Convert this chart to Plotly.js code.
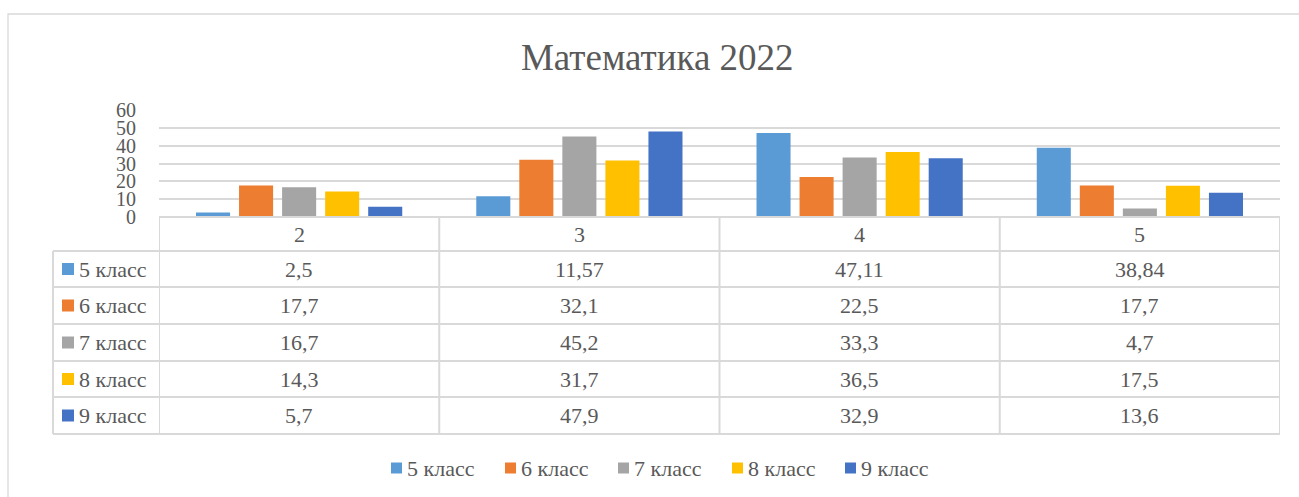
<!DOCTYPE html>
<html>
<head>
<meta charset="utf-8">
<script src="https://cdn.plot.ly/plotly-3.0.1.min.js"></script>
<style>html,body{margin:0;padding:0;background:#fff;}#chart{width:1299px;height:497px;}</style>
</head>
<body>
<div id="chart"></div>
<script>
const categories = ['2', '3', '4', '5'];
const seriesNames = ['5 класс', '6 класс', '7 класс', '8 класс', '9 класс'];
const seriesColors = ['#5B9BD5', '#ED7D31', '#A5A5A5', '#FFC000', '#4472C4'];
const class5 = [2.5, 11.57, 47.11, 38.84];
const class6 = [17.7, 32.1, 22.5, 17.7];
const class7 = [16.7, 45.2, 33.3, 4.7];
const class8 = [14.3, 31.7, 36.5, 17.5];
const class9 = [5.7, 47.9, 32.9, 13.6];
const seriesValues = [class5, class6, class7, class8, class9];
const yTicks = [0, 10, 20, 30, 40, 50, 60];
const chartTitle = 'Математика 2022';

const W = 1299, H = 497;
const FONT = 'Liberation Serif, Times New Roman, serif';
const TXT = '#595959';
const LINE = '#D9D9D9';
const px = x => x / W;
const py = y => 1 - y / H;

// layout geometry (pixels)
const plotL = 159, plotR = 1280, plotTop = 110, plotBot = 217;
const tableLeft = 53;
const rowEdges = [217, 251, 287, 324, 361, 397, 434];
const TS = 22;

const traces = seriesNames.map((name, i) => ({
  type: 'bar',
  name: name,
  x: categories,
  y: seriesValues[i],
  marker: {color: seriesColors[i], line: {width: 0}},
  hoverinfo: 'x+y+name'
}));

const shapes = [];
const annotations = [];

// outer chart frame
shapes.push({type: 'rect', xref: 'paper', yref: 'paper', x0: px(8), x1: px(1330), y0: py(14), y1: py(530),
  line: {color: LINE, width: 1.3}, fillcolor: 'rgba(0,0,0,0)', layer: 'below'});

// table horizontal lines
rowEdges.forEach((y, i) => {
  shapes.push({type: 'line', xref: 'paper', yref: 'paper',
    x0: px(i === 0 ? plotL : tableLeft), x1: px(plotR), y0: py(y), y1: py(y),
    line: {color: LINE, width: 2}});
});
// table vertical lines at category boundaries (data coords)
for (let k = 0; k <= categories.length; k++) {
  shapes.push({type: 'line', xref: 'x', yref: 'paper',
    x0: k - 0.5, x1: k - 0.5, y0: py(rowEdges[0]), y1: py(rowEdges[rowEdges.length - 1]),
    line: {color: LINE, width: 2}});
}
// left border of series-name column
shapes.push({type: 'line', xref: 'paper', yref: 'paper',
  x0: px(tableLeft), x1: px(tableLeft), y0: py(rowEdges[1]), y1: py(rowEdges[rowEdges.length - 1]),
  line: {color: LINE, width: 2}});

// header row: category names (positioned by category index on the x axis)
categories.forEach((c, j) => {
  annotations.push({xref: 'x', yref: 'paper', x: j, y: py((rowEdges[0] + rowEdges[1]) / 2),
    text: c, showarrow: false, xanchor: 'center', yanchor: 'middle',
    font: {family: FONT, size: TS, color: TXT}});
});

const fmt = v => String(v).replace('.', ',');

// data rows
seriesNames.forEach((name, i) => {
  const yc = (rowEdges[i + 1] + rowEdges[i + 2]) / 2;
  shapes.push({type: 'rect', xref: 'paper', yref: 'paper',
    x0: px(62), x1: px(74), y0: py(yc - 6), y1: py(yc + 6),
    fillcolor: seriesColors[i], line: {width: 0}});
  annotations.push({xref: 'paper', yref: 'paper', x: px(77), y: py(yc),
    text: name, showarrow: false, xanchor: 'left', yanchor: 'middle',
    font: {family: FONT, size: TS, color: TXT}});
  categories.forEach((c, j) => {
    annotations.push({xref: 'x', yref: 'paper', x: j, y: py(yc),
      text: fmt(seriesValues[i][j]), showarrow: false, xanchor: 'center', yanchor: 'middle',
      font: {family: FONT, size: TS, color: TXT}});
  });
});

// legend (bottom, centered)
const legendX = [391, 505, 618, 732, 845];
const legendY = 468;
seriesNames.forEach((name, i) => {
  shapes.push({type: 'rect', xref: 'paper', yref: 'paper',
    x0: px(legendX[i]), x1: px(legendX[i] + 11), y0: py(legendY - 5.5), y1: py(legendY + 5.5),
    fillcolor: seriesColors[i], line: {width: 0}});
  annotations.push({xref: 'paper', yref: 'paper', x: px(legendX[i] + 14), y: py(legendY),
    text: name, showarrow: false, xanchor: 'left', yanchor: 'middle',
    font: {family: FONT, size: TS, color: TXT}});
});

const layout = {
  width: W, height: H,
  margin: {l: 0, r: 0, t: 0, b: 0, pad: 0},
  paper_bgcolor: '#ffffff',
  plot_bgcolor: '#ffffff',
  showlegend: false,
  title: {text: chartTitle, x: 0.506, xanchor: 'center', y: py(57), yanchor: 'middle',
    font: {family: FONT, size: 37, color: TXT}},
  barmode: 'group',
  bargap: 0.232,
  bargroupgap: 0.209,
  xaxis: {
    domain: [px(plotL), px(plotR)],
    type: 'category',
    categoryorder: 'array', categoryarray: categories,
    showticklabels: false, showgrid: false, zeroline: false, showline: false, ticks: '',
    range: [-0.5, categories.length - 0.5]
  },
  yaxis: {
    domain: [py(plotBot), py(plotTop)],
    range: [0, 60],
    tickvals: yTicks,
    ticktext: yTicks.map(String),
    showgrid: true, gridcolor: LINE, gridwidth: 2,
    zeroline: true, zerolinecolor: LINE, zerolinewidth: 2,
    showline: false, ticks: '',
    ticklabelstandoff: 22,
    tickfont: {family: FONT, size: 20, color: TXT}
  },
  shapes: shapes,
  annotations: annotations
};

Plotly.newPlot('chart', traces, layout, {displayModeBar: false, responsive: false});
</script>
</body>
</html>
